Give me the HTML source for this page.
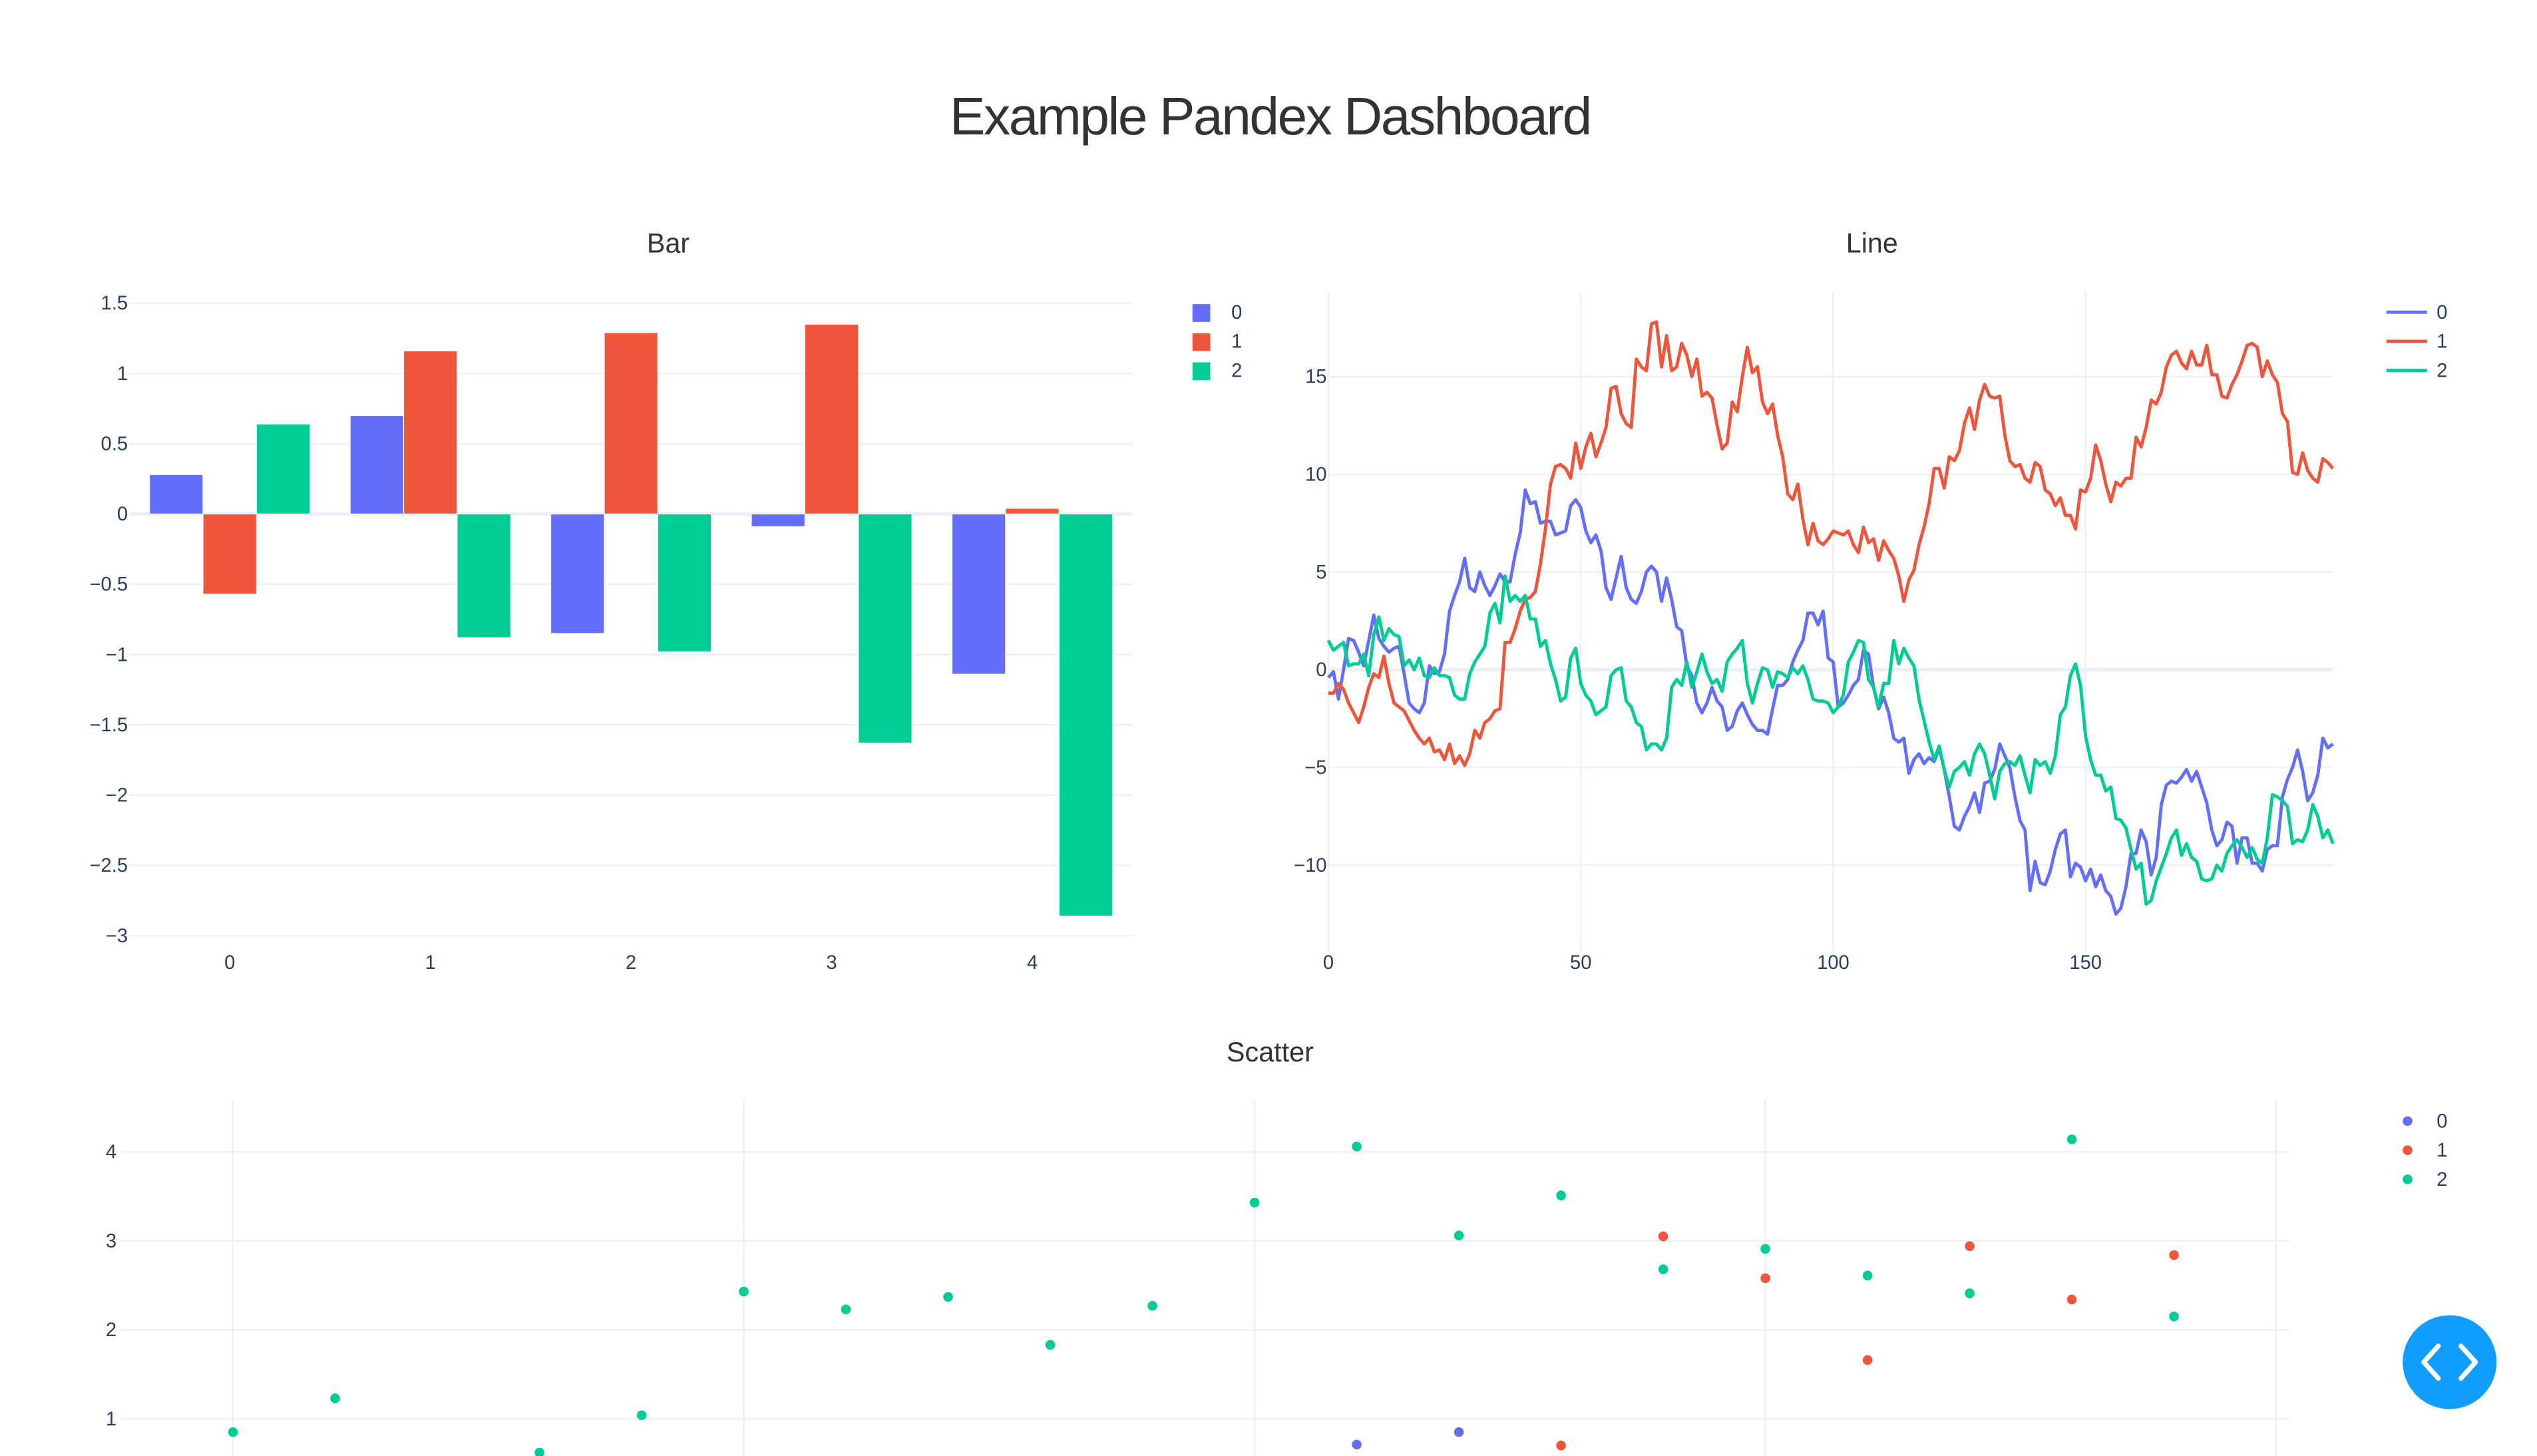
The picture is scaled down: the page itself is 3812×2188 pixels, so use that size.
<!DOCTYPE html>
<html><head><meta charset="utf-8">
<style>
html,body{margin:0;padding:0;background:#fff;width:3812px;height:2188px;overflow:hidden;}
svg{display:block;font-family:"Liberation Sans",Arial,sans-serif;overflow:hidden;}
.tick{fill:#2a3f5f;font-size:12px;}
.grid{stroke:#ebf0f8;stroke-width:1;}
.zero{stroke:#ebf0f8;stroke-width:2;}
.sub{fill:#333;font-size:17px;}
</style></head>
<body>
<svg id="root" width="3812" height="2188" viewBox="0 0 1568 900" xmlns="http://www.w3.org/2000/svg">
<text x="785" y="83" text-anchor="middle" style="font-size:33px;fill:#333;letter-spacing:-1px">Example Pandex Dashboard</text>
<text class="sub" x="413" y="156" text-anchor="middle">Bar</text>
<text class="sub" x="1157" y="156" text-anchor="middle">Line</text>
<text class="sub" x="785" y="656" text-anchor="middle">Scatter</text>
<g id="bar"></g>
<g id="line"></g>
<g id="scatter"></g>
<g>
<circle cx="1514" cy="842" r="29" fill="#119dff"/>
<path d="M1507 832 L1498 842 L1507 852 M1521 832 L1530 842 L1521 852" stroke="#fff" stroke-width="3" fill="none" stroke-linecap="round" stroke-linejoin="round"/>
</g>
</svg>
<script>
const COLORS=['#636efa','#EF553B','#00cc96'];
const seriesNames=['0','1','2'];
// Bar data
const barCategories=[0,1,2,3,4];
const bar0=[0.28,0.70,-0.85,-0.09,-1.14];
const bar1=[-0.57,1.16,1.29,1.35,0.04];
const bar2=[0.64,-0.88,-0.98,-1.63,-2.86];
const barTicks=[1.5,1,0.5,0,-0.5,-1,-1.5,-2,-2.5,-3];
// Line data
const line0=[-0.4,-0.1,-1.5,0,1.6,1.5,0.9,0.2,1.5,2.8,1.6,1.2,0.9,1.1,1.2,-0.2,-1.7,-2.0,-2.2,-1.7,0.2,-0.2,-0.1,0.8,3.0,3.8,4.5,5.7,4.2,4.0,5.0,4.3,3.8,4.3,4.9,4.5,4.5,5.9,7.0,9.2,8.5,8.6,7.5,7.6,7.6,6.9,7.0,7.1,8.4,8.7,8.3,7.1,6.5,6.9,6.1,4.2,3.6,4.7,5.8,4.2,3.6,3.4,4.0,5.0,5.3,5.0,3.5,4.7,3.6,2.2,2.0,0.2,-0.3,-1.7,-2.2,-1.7,-0.9,-1.6,-1.9,-3.1,-2.9,-2.1,-1.7,-2.3,-2.8,-3.1,-3.1,-3.3,-2.0,-0.8,-0.8,-0.5,0.4,1.0,1.5,2.9,2.9,2.3,3.0,0.6,0.4,-1.9,-1.7,-1.3,-0.8,-0.5,1.0,0.8,-0.9,-2.0,-1.4,-2.2,-3.5,-3.7,-3.5,-5.3,-4.6,-4.3,-4.8,-4.5,-4.7,-4.0,-5.1,-6.5,-8.0,-8.2,-7.5,-7.0,-6.3,-7.3,-5.8,-5.7,-5.1,-3.8,-4.4,-5.0,-6.5,-7.7,-8.2,-11.3,-9.8,-10.9,-11.0,-10.3,-9.2,-8.4,-8.2,-10.6,-9.9,-10.1,-10.8,-10.2,-11.1,-10.5,-11.3,-11.6,-12.5,-12.2,-11.1,-9.4,-9.4,-8.2,-8.8,-10.5,-9.6,-6.9,-5.9,-5.7,-5.8,-5.5,-5.1,-5.7,-5.2,-6.0,-6.8,-8.2,-9.0,-8.7,-7.8,-8.0,-9.9,-8.6,-8.6,-9.9,-9.9,-10.3,-9.2,-9.0,-9.0,-6.5,-5.6,-5.0,-4.1,-5.2,-6.7,-6.3,-5.4,-3.5,-4.0,-3.8];
const line1=[-1.2,-1.2,-0.7,-1.0,-1.7,-2.2,-2.7,-1.9,-0.9,-0.2,-0.4,0.7,-0.7,-1.7,-1.9,-2.1,-2.6,-3.1,-3.5,-3.8,-3.5,-4.2,-4.1,-4.6,-3.8,-4.8,-4.4,-4.9,-4.3,-3.1,-3.5,-2.7,-2.5,-2.1,-2.0,1.4,1.4,2.1,3.0,3.6,3.7,4.0,5.4,7.2,9.5,10.4,10.5,10.3,9.8,11.6,10.3,11.4,12.1,10.9,11.6,12.4,14.4,14.5,13.1,12.6,12.4,15.9,15.5,15.3,17.7,17.8,15.5,17.1,15.3,15.5,16.7,16.1,15.0,15.9,14.0,14.2,13.9,12.5,11.3,11.6,13.7,13.2,15.0,16.5,15.2,15.5,13.7,13.1,13.6,12.0,10.9,9.0,8.7,9.5,7.7,6.4,7.5,6.6,6.4,6.7,7.1,7.0,6.9,7.1,6.4,6.0,7.3,6.5,6.7,5.6,6.6,6.1,5.7,4.8,3.5,4.6,5.1,6.4,7.3,8.5,10.3,10.3,9.3,10.9,10.7,11.2,12.6,13.4,12.3,13.8,14.6,14.0,13.9,14.0,12.0,10.7,10.4,10.5,9.8,9.6,10.6,10.4,9.2,9.0,8.4,8.8,7.9,7.9,7.2,9.2,9.1,9.8,11.5,10.7,9.5,8.6,9.6,9.4,9.8,9.8,11.9,11.4,12.4,13.8,13.6,14.2,15.5,16.1,16.3,15.7,15.4,16.3,15.6,15.6,16.6,15.1,15.1,14.0,13.9,14.6,15.1,15.8,16.6,16.7,16.5,15.0,15.8,15.1,14.7,13.1,12.7,10.1,10.0,11.1,10.2,9.8,9.6,10.8,10.6,10.3];
const line2=[1.5,1.0,1.2,1.4,0.2,0.3,0.3,0.8,-0.3,1.8,2.7,1.5,2.1,1.8,1.7,0.2,0.5,0.0,0.6,-0.3,-0.4,0.1,-0.3,-0.3,-0.4,-1.3,-1.5,-1.5,-0.2,0.4,0.8,1.2,2.9,3.4,2.4,4.8,3.5,3.8,3.5,3.8,2.6,2.6,1.2,1.5,0.3,-0.5,-1.6,-1.4,0.6,1.1,-0.7,-1.3,-1.6,-2.3,-2.1,-1.9,-0.3,0.0,0.1,-1.6,-1.9,-2.7,-2.9,-4.1,-3.8,-3.8,-4.1,-3.5,-0.9,-0.5,-0.8,0.4,-0.9,-0.1,0.8,-0.1,-0.7,-0.5,-1.1,0.4,0.8,1.1,1.5,-0.7,-1.7,-0.7,0.1,0.0,-0.9,-0.1,-0.2,-0.4,0.1,-0.2,0.2,-0.5,-1.5,-1.6,-1.6,-1.7,-2.2,-1.9,-1.3,0.4,0.9,1.5,1.4,-0.5,-0.9,-1.9,-0.7,-0.7,1.5,0.3,1.1,0.6,0.2,-1.5,-2.6,-3.7,-4.6,-3.9,-5.1,-6.0,-5.2,-5.0,-4.7,-5.4,-4.3,-3.8,-4.3,-5.4,-6.6,-5.2,-4.8,-4.7,-4.9,-4.4,-5.4,-6.3,-4.6,-4.9,-4.7,-5.3,-4.4,-2.3,-1.9,-0.3,0.3,-0.8,-3.4,-4.6,-5.4,-5.4,-6.2,-6.0,-7.6,-7.7,-8.1,-9.2,-10.2,-9.9,-12.0,-11.8,-10.8,-10.1,-9.4,-8.6,-8.2,-9.5,-8.9,-9.6,-9.8,-10.7,-10.8,-10.7,-10.0,-10.3,-9.4,-9.0,-8.7,-9.1,-9.6,-9.1,-9.7,-9.9,-8.6,-6.4,-6.5,-6.7,-7.0,-8.9,-8.7,-8.8,-8.2,-6.9,-7.5,-8.6,-8.2,-8.9];
const lineYTicks=[15,10,5,0,-5,-10];
const lineXTicks=[0,50,100,150];
// Scatter data
const scat0=[-1,-1,-1,-1,-1,-1,-1,-1,-1,-1,-1,0.71,0.85,-1,-1,-1,-1,-1,-1,-1];
const scat1=[-1,-1,-1,-1,-1,-1,-1,-1,-1,-1,-1,-1,-1,0.70,3.05,2.58,1.66,2.94,2.34,2.84];
const scat2=[0.85,1.23,-1,0.62,1.04,2.43,2.23,2.37,1.83,2.27,3.43,4.06,3.06,3.51,2.68,2.91,2.61,2.41,4.14,2.15];
const scatYTicks=[4,3,2,1];
const scatXGrid=[0,5,10,15,20];

const NS='http://www.w3.org/2000/svg';
function mk(parent,tag,attrs,text){const e=document.createElementNS(NS,tag);for(const k in attrs)e.setAttribute(k,attrs[k]);if(text!==undefined)e.textContent=text;parent.appendChild(e);return e;}
function fmt(v){return String(v).replace('-','\u2212');}

// ---- Bar chart
(function(){
const g=document.getElementById('bar');
const x0=80,x1=700;
const cx=i=>142+i*124;
const y=v=>317.7-v*86.9;
barTicks.forEach(t=>{
  const l=mk(g,'line',{x1:x0,x2:x1,y1:y(t),y2:y(t),class:t===0?'zero':'grid'});
  
  
  const tx=mk(g,'text',{x:x0-1,y:y(t)+4,'text-anchor':'end',class:'tick'},fmt(t));
  
  
});
barCategories.forEach((c,i)=>{
  const tx=mk(g,'text',{x:cx(i),y:599,'text-anchor':'middle',class:'tick'},String(c));
  
  
});
[bar0,bar1,bar2].forEach((s,si)=>{
  s.forEach((v,i)=>{
    const bx=cx(i)-49.6+si*33.07;
    const r=mk(g,'rect',{x:bx,y:Math.min(y(v),y(0)),width:33.07,height:Math.abs(y(v)-y(0)),fill:COLORS[si],stroke:'#fff','stroke-width':0.5});
    
    
  });
  const ly=193+si*18;
  const lr=mk(g,'rect',{x:737,y:ly-5,width:11,height:11,fill:COLORS[si]});
  
  
  const lt=mk(g,'text',{x:761,y:ly+4,class:'tick'},seriesNames[si]);
  
  
});
})();

// ---- Line chart
(function(){
const g=document.getElementById('line');
const x0=821,x1=1442,yt=180,yb=588;
const x=i=>821+i*3.12;
const y=v=>414-v*12.08;
lineXTicks.forEach(t=>{
  if(t>0){const l=mk(g,'line',{x1:x(t),x2:x(t),y1:yt,y2:yb,class:'grid'});
  
  }
  const tx=mk(g,'text',{x:x(t),y:599,'text-anchor':'middle',class:'tick'},String(t));
  
  
});
const vl=mk(g,'line',{x1:x0,x2:x0,y1:yt,y2:yb,class:'grid'});


lineYTicks.forEach(t=>{
  const l=mk(g,'line',{x1:x0,x2:x1,y1:y(t),y2:y(t),class:t===0?'zero':'grid'});
  
  
  const tx=mk(g,'text',{x:x0-1,y:y(t)+4,'text-anchor':'end',class:'tick'},fmt(t));
  
  
});
[line0,line1,line2].forEach((s,si)=>{
  const d=s.map((v,i)=>(i?'L':'M')+x(i).toFixed(2)+' '+y(v).toFixed(2)).join(' ');
  const p=mk(g,'path',{d:d,fill:'none',stroke:COLORS[si],'stroke-width':2,'stroke-linejoin':'round'});
  
  
  const ly=193+si*18;
  const ll=mk(g,'line',{x1:1475,x2:1500,y1:ly,y2:ly,stroke:COLORS[si],'stroke-width':2});
  
  
  const lt=mk(g,'text',{x:1506,y:ly+4,class:'tick'},seriesNames[si]);
  
  
});
})();

// ---- Scatter chart
(function(){
const g=document.getElementById('scatter');
const x0=75,x1=1415,yt=680,yb=900;
const x=i=>144+i*63.14;
const y=v=>877-(v-1)*55;
scatXGrid.forEach(t=>{
  const l=mk(g,'line',{x1:x(t),x2:x(t),y1:yt,y2:yb,class:'grid'});
  
  
});
scatYTicks.forEach(t=>{
  const l=mk(g,'line',{x1:x0,x2:x1,y1:y(t),y2:y(t),class:'grid'});
  
  
  const tx=mk(g,'text',{x:72,y:y(t)+4,'text-anchor':'end',class:'tick'},String(t));
  
  
});
[scat0,scat1,scat2].forEach((s,si)=>{
  s.forEach((v,i)=>{
    if(y(v)>yb-1) return; // outside visible plot range (clipped)
    const c=mk(g,'circle',{cx:x(i),cy:y(v),r:3,fill:COLORS[si]});
    
    
  });
  const ly=693+si*18;
  const lc=mk(g,'circle',{cx:1488,cy:ly,r:3,fill:COLORS[si]});
  
  
  const lt=mk(g,'text',{x:1506,y:ly+4,class:'tick'},seriesNames[si]);
  
  
});
})();
</script>
</body></html>
